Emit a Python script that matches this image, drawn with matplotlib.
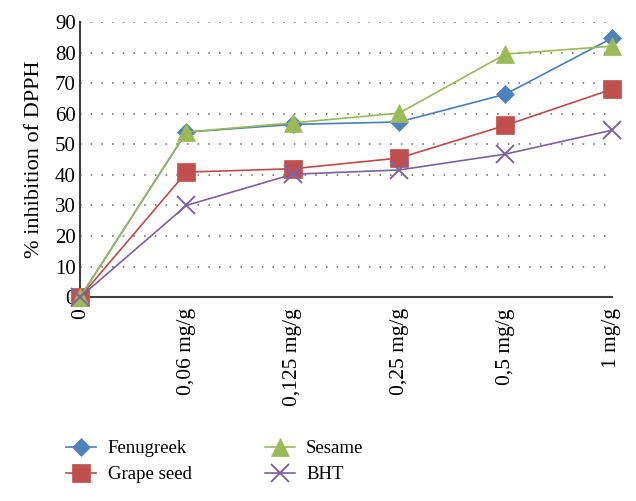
import matplotlib.pyplot as plt

# Concentraciones y % de inhibición de DPPH
concentrations = ["0", "0,06 mg/g", "0,125 mg/g", "0,25 mg/g", "0,5 mg/g", "1 mg/g"]
fenugreek = [0, 54, 56.5, 57.3, 66.4, 84.7]
grape_seed = [0, 40.9, 42, 45.5, 56.2, 68]
sesame = [0, 54, 57, 60.2, 79.5, 82.1]
bht = [0, 30, 40.2, 41.6, 46.8, 54.6]

plt.rcParams['font.family'] = ['Liberation Serif', 'DejaVu Serif']

fig = plt.figure(figsize=(6.36, 5.01), dpi=100)
ax = fig.add_axes([0.126, 0.407, 0.836, 0.549])

x = list(range(len(concentrations)))

series = [
    ("Fenugreek", fenugreek, "#4A7EBB", "#4F81BD", "D", 9.5),
    ("Grape seed", grape_seed, "#BE4B48", "#C0504D", "s", 13),
    ("Sesame", sesame, "#98B954", "#9BBB59", "^", 13),
    ("BHT", bht, "#7D60A0", "#8064A2", "x", 13),
]

for name, vals, lc, mc, mk, ms in series:
    ax.plot(x, vals, color=lc, lw=1.2, marker=mk, ms=ms,
            markerfacecolor=mc, markeredgecolor=mc,
            markeredgewidth=1.4 if mk == "x" else 0.5,
            label=name, clip_on=False, zorder=3)

ax.set_xlim(0, 5)
ax.set_ylim(0, 90)
ax.set_yticks(range(0, 91, 10))
ax.set_xticks(x)
ax.set_xticklabels(concentrations, rotation=90, fontsize=15.5)
ax.tick_params(axis='y', labelsize=15, length=0, pad=3)
ax.tick_params(axis='x', length=0, pad=8)

ax.yaxis.grid(True, linestyle=(0, (1, 6)), color="#666666", lw=1.1)
ax.set_axisbelow(True)

for s in ["top", "right"]:
    ax.spines[s].set_visible(False)
for s in ["left", "bottom"]:
    ax.spines[s].set_color("#404040")
    ax.spines[s].set_linewidth(1.5)

ax.set_ylabel("% inhibition of DPPH", fontsize=16, labelpad=8)

fig.legend(loc="upper left", bbox_to_anchor=(0.078, 0.155), ncol=2,
           frameon=False, fontsize=13.5, handlelength=1.6,
           columnspacing=3.9, labelspacing=0.48, handletextpad=0.6)

fig.savefig("out.png", dpi=100)
